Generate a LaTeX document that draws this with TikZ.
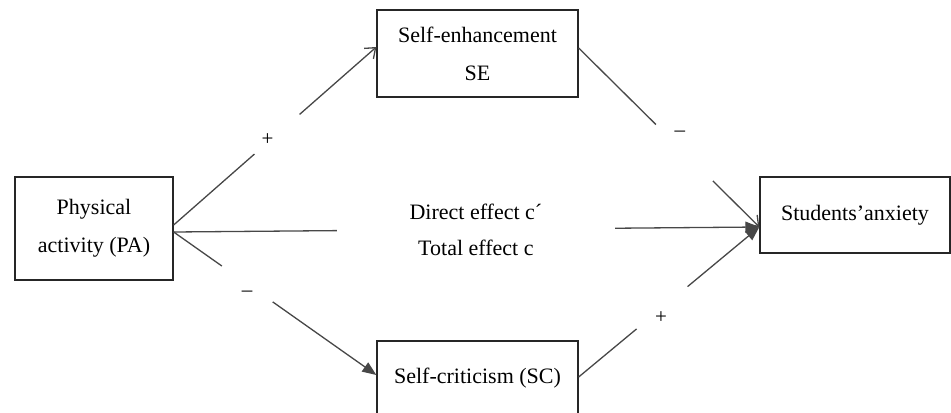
\documentclass[tikz,border=0pt]{standalone}
\usepackage{fontspec}
\setmainfont{Liberation Serif}
\usetikzlibrary{arrows.meta,positioning}

\begin{document}
\begin{tikzpicture}[x=0.5pt, y=-0.5pt,
    box/.style={rectangle, draw=black!85, line width=0.65pt, inner sep=0pt, align=center, font=\fontsize{11}{19}\selectfont},
    link/.style={draw=black!72, line width=0.65pt},
    openhead/.style={-{Straight Barb[length=4.5pt, width=7pt]}},
    fillhead/.style={-{Triangle[length=7pt, width=5.5pt]}},
    cover/.style={circle, fill=white, inner sep=0pt},
    sign/.style={inner sep=0pt, font=\fontsize{10.5}{10.5}\selectfont}
]
\clip (0,0) rectangle (951,412);
% Physical activity
\node[box, minimum width=79pt, minimum height=51.5pt] (pa) at (94,228.5) {Physical\\activity (PA)};
% Self-enhancement
\node[box, minimum width=100.5pt, minimum height=43.5pt] (se) at (477.5,53.5) {Self-enhancement\\SE};
% Self-criticism
\node[box, minimum width=100.5pt, minimum height=37pt] (sc) at (477.5,378) {Self-criticism (SC)};
% Students' anxiety
\node[box, minimum width=95pt, minimum height=38pt] (sa) at (855,215) {Students’anxiety};
% Via self-enhancement
\draw[link, openhead] ([yshift=1.75pt]pa.east) -- node[cover, pos=0.51, minimum size=30pt, label={[sign, xshift=-4.75pt, yshift=-2.5pt]center:+}] {} ([yshift=3.25pt]se.west);
\draw[link, openhead] ([yshift=2.75pt]se.east) -- node[cover, pos=0.585, minimum size=40pt, label={[sign, xshift=-2.25pt, yshift=9.5pt]center:–}] {} ([yshift=-6pt]sa.west);
% Via self-criticism
\draw[link, fillhead] ([yshift=-1.75pt]pa.east) -- node[cover, pos=0.363, minimum size=31pt, label={[sign, yshift=-4.75pt]center:–}] {} ([yshift=1.5pt]sc.west);
\draw[link, fillhead] ([yshift=0.5pt]sc.east) -- node[cover, pos=0.4615, minimum size=33pt, label={[sign, xshift=-0.5pt, yshift=-4.75pt]center:+}] {} ([yshift=-6pt]sa.west);
% Direct and total effect
\draw[link, fillhead] ([yshift=-1.75pt]pa.east) -- node[cover, rectangle, pos=0.516, minimum width=139pt, align=center, font=\fontsize{11}{18}\selectfont] {Direct effect c´\\Total effect c} ([yshift=-6pt]sa.west);
\end{tikzpicture}
\end{document}
